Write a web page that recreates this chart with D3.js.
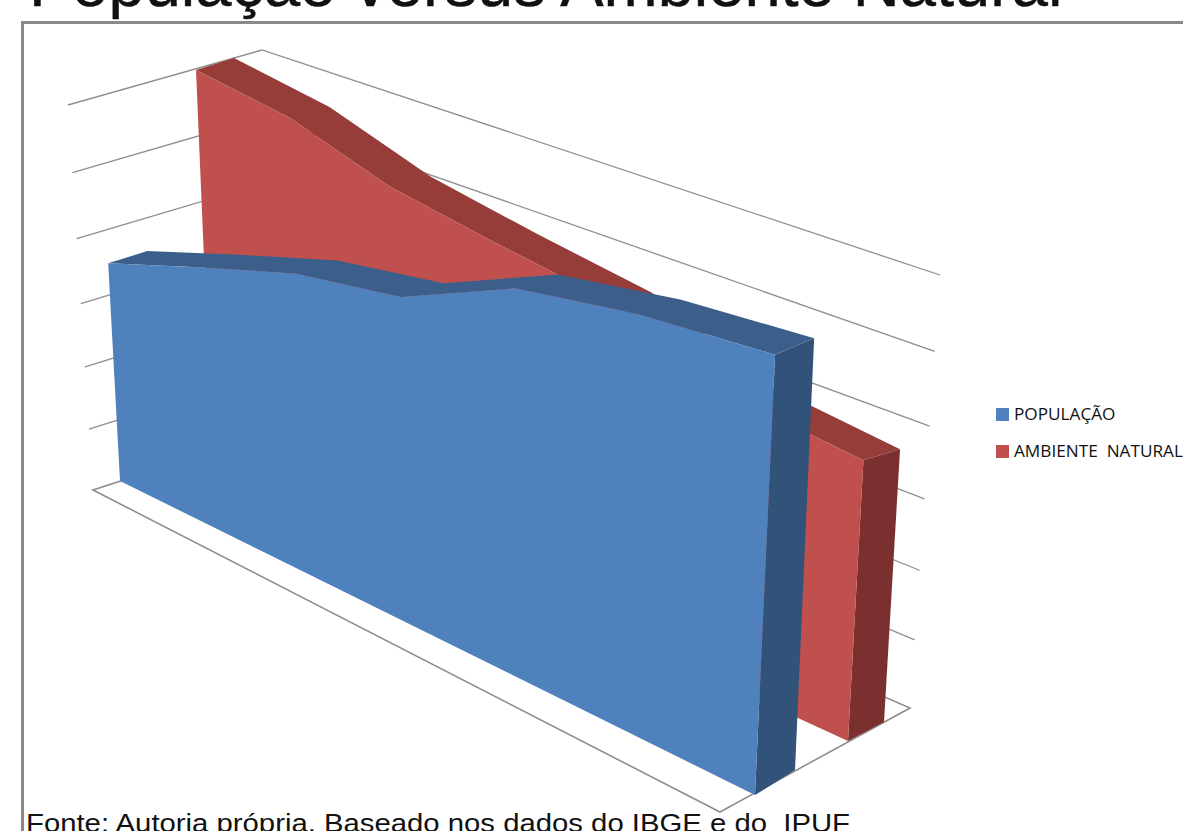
<!DOCTYPE html>
<html lang="pt">
<head>
<meta charset="UTF-8">
<title>População versus Ambiente Natural</title>
<script src="https://d3js.org/d3.v7.min.js"></script>
<style>
  html,body{margin:0;background:#fff;overflow:hidden}
  text{font-family:"Liberation Sans",Arial,sans-serif;white-space:pre}
</style>
</head>
<body>
<svg width="1183" height="831"></svg>
<script>
// categories have no visible labels in the picture, only 7 evenly spaced steps
const categories = ["1","2","3","4","5","6","7"];
const populacao = [3.46, 3.97, 4.45, 4.70, 5.40, 5.65, 5.76];
const ambiente = [6.0, 5.74, 5.22, 4.93, 4.68, 4.0, 3.8];
const gridTicks = [1, 2, 3, 4, 5, 6];
const legendLabels = ["POPULAÇÃO", "AMBIENTE  NATURAL"];

const svg = d3.select("svg");
const xScale = d3.scalePoint().domain(categories).range([0, 1]);
const yScale = d3.scaleLinear().domain([0, 6]).range([0, 1]);

// projective map of the unit square onto a quad: (0,0) (1,0) (1,1) (0,1)
function plane(q) {
  const [[x0,y0],[x1,y1],[x2,y2],[x3,y3]] = q;
  const dx1=x1-x2, dx2=x3-x2, sx=x0-x1+x2-x3, dy1=y1-y2, dy2=y3-y2, sy=y0-y1+y2-y3;
  const d=dx1*dy2-dx2*dy1, g=(sx*dy2-dx2*sy)/d, h=(dx1*sy-sx*dy1)/d;
  const a=x1-x0+g*x1, b=x3-x0+h*x3, e=y1-y0+g*y1, f=y3-y0+h*y3;
  return (u, v) => {
    const w = g*u + h*v + 1;
    return [(a*u + b*v + x0)/w, (e*u + f*v + y0)/w];
  };
}

const backWall = plane([[275,431],[910,708],[940,275],[262,50]]);
const sideWall = plane([[93,490],[275,431],[262,50],[68,105]]);
const line = d3.line();

// walls and floor
const grid = svg.append("g").attr("fill","none").attr("stroke","#8e8e8e").attr("stroke-width",1.3);
gridTicks.forEach(t => {
  const v = yScale(t);
  grid.append("path").attr("d", line([sideWall(0,v), sideWall(1,v), backWall(1,v)]));
});
grid.append("path").attr("d", line([[93,490],[720,812],[910,708],[275,431]])+"Z").attr("stroke-width",1.6);

function drawSeries(values, frontQ, backQ, c) {
  const front = plane(frontQ), back = plane(backQ);
  const g = svg.append("g");
  const ftop = categories.map((k,i) => front(xScale(k), yScale(values[i])));
  const btop = categories.map((k,i) => back(xScale(k), yScale(values[i])));
  const last = values.length - 1;
  g.append("path").attr("fill", c.side).attr("d", line([
    ftop[last], btop[last], back(1,0), front(1,0)
  ])+"Z");
  g.append("path").attr("fill", c.top).attr("d", line(ftop.concat(btop.slice().reverse()))+"Z");
  g.append("path").attr("fill", c.face).attr("d", line([front(0,0)].concat(ftop, [front(1,0)]))+"Z");
}

drawSeries(ambiente,
  [[212,448],[848,741],[873,286],[196,70]],
  [[250,436],[884,722],[910,280],[234,58]],
  {face:"#c0504d", top:"#963d3a", side:"#7a302e"});
drawSeries(populacao,
  [[120,481],[755,795],[776,335],[99,94]],
  [[158,468],[795,770],[815,319],[139,83]],
  {face:"#4f81bd", top:"#3b5f8a", side:"#315279"});

// picture frame, open to the right and bottom
svg.append("path").attr("d","M1183,22.5H22.5V831").attr("fill","none").attr("stroke","#8a8a8a").attr("stroke-width",3);

// title and source are cut by the page edge as in the picture
svg.append("text").attr("x",29).attr("y",6).attr("font-size",65).attr("fill","#111")
  .attr("stroke","#111").attr("stroke-width",0.5)
  .text("População versus Ambiente Natural");
svg.append("text").attr("x",26).attr("y",832).attr("font-size",26).attr("fill","#111")
  .attr("textLength",824).attr("lengthAdjust","spacingAndGlyphs")
  .text("Fonte: Autoria própria. Baseado nos dados do IBGE e do  IPUF");

// legend
const legend = svg.append("g").selectAll("g").data(legendLabels).join("g")
  .attr("transform",(d,i)=>`translate(996,${408+i*37})`);
legend.append("rect").attr("width",13).attr("height",13).attr("fill",(d,i)=>["#4f81bd","#c0504d"][i]);
legend.append("text").attr("x",18).attr("y",12).attr("font-size",17.2).attr("fill","#111")
  .style("font-family","'Open Sans'").text(d=>d);
</script>
</body>
</html>
